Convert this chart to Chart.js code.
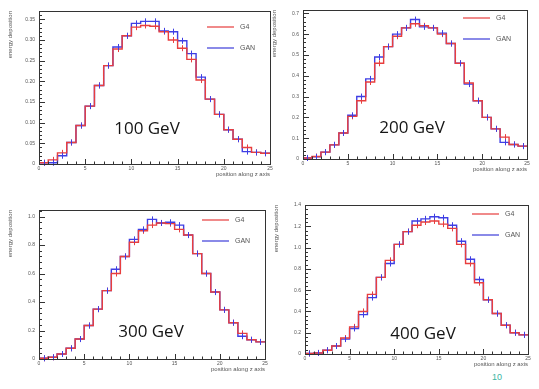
<!DOCTYPE html>
<html>
<head>
<meta charset="utf-8">
<script src="https://cdn.jsdelivr.net/npm/chart.js@4.4.1/dist/chart.umd.min.js"></script>
<style>
  html, body { margin: 0; padding: 0; background: #fff; }
  #page { position: relative; width: 539px; height: 389px; overflow: hidden; font-family: "Liberation Sans", Arial, sans-serif; }
  canvas { position: absolute; }
  .energy { position: absolute; transform: translate(-50%, -50%); font-family: "Open Sans", sans-serif; font-size: 17px; line-height: 1; color: #151515; white-space: nowrap; }
  .leg { position: absolute; height: 0; font-size: 7px; color: #555; white-space: nowrap; }
  .leg i { position: absolute; top: -1px; width: 27px; height: 2px; }
  .leg b { position: absolute; top: -4px; font-weight: normal; }
  #pageNum { position: absolute; left: 492px; top: 372px; font-size: 9px; color: #3bb5a3; }
</style>
</head>
<body>
<div id="page"><div id="pageNum">10</div></div>
<script>
// ----------------------
// Data, bin i covers [i, i+1] on the z axis
// ----------------------
const binStarts = [0, 1, 2, 3, 4, 5, 6, 7, 8, 9, 10, 11, 12, 13, 14, 15, 16, 17, 18, 19, 20, 21, 22, 23, 24];
const seriesNames = ['G4', 'GAN'];
const energyLabels = ['100 GeV', '200 GeV', '300 GeV', '400 GeV'];

const g4_100 = [0.003, 0.01, 0.027, 0.052, 0.093, 0.14, 0.19, 0.238, 0.278, 0.31, 0.331, 0.335, 0.333, 0.32, 0.30, 0.28, 0.253, 0.203, 0.157, 0.12, 0.083, 0.06, 0.04, 0.028, 0.026];
const gan_100 = [0.003, 0.003, 0.02, 0.052, 0.093, 0.14, 0.19, 0.238, 0.283, 0.31, 0.34, 0.345, 0.345, 0.322, 0.32, 0.298, 0.267, 0.21, 0.157, 0.12, 0.083, 0.06, 0.03, 0.028, 0.026];

const g4_200 = [0.005, 0.012, 0.033, 0.068, 0.125, 0.205, 0.28, 0.37, 0.46, 0.54, 0.59, 0.63, 0.65, 0.64, 0.63, 0.60, 0.555, 0.46, 0.365, 0.28, 0.20, 0.145, 0.105, 0.07, 0.062];
const gan_200 = [0.005, 0.01, 0.033, 0.068, 0.125, 0.21, 0.30, 0.385, 0.49, 0.54, 0.60, 0.63, 0.67, 0.635, 0.63, 0.605, 0.555, 0.46, 0.36, 0.28, 0.20, 0.145, 0.08, 0.07, 0.062];

const g4_300 = [0.005, 0.012, 0.035, 0.075, 0.14, 0.235, 0.35, 0.48, 0.60, 0.72, 0.82, 0.90, 0.94, 0.955, 0.95, 0.91, 0.87, 0.74, 0.60, 0.47, 0.345, 0.255, 0.18, 0.135, 0.12];
const gan_300 = [0.005, 0.012, 0.035, 0.075, 0.14, 0.235, 0.35, 0.48, 0.63, 0.72, 0.84, 0.91, 0.98, 0.955, 0.96, 0.94, 0.87, 0.74, 0.60, 0.47, 0.345, 0.255, 0.16, 0.135, 0.12];

const g4_400 = [0.005, 0.01, 0.035, 0.075, 0.15, 0.255, 0.40, 0.56, 0.72, 0.88, 1.03, 1.15, 1.21, 1.24, 1.25, 1.22, 1.18, 1.03, 0.85, 0.67, 0.51, 0.38, 0.27, 0.20, 0.18];
const gan_400 = [0.005, 0.01, 0.035, 0.075, 0.14, 0.24, 0.37, 0.53, 0.72, 0.85, 1.03, 1.15, 1.25, 1.27, 1.29, 1.28, 1.21, 1.06, 0.89, 0.70, 0.51, 0.38, 0.27, 0.20, 0.18];

// axis ranges (ROOT frame tops) and tick steps
const yMaxes = [0.37, 0.716, 1.046, 1.40];
const yTickSteps = [0.05, 0.1, 0.2, 0.2];
const xTickStep = 5;

// ----------------------
// Layout: plot frame [left, top, right, bottom] of each panel in page pixels
// ----------------------
const frames = [
  [39, 8, 270, 164],
  [303, 7, 527, 159],
  [39, 207, 265, 359],
  [305, 202, 528, 354],
];
const textCenters = [[147, 127], [412, 126], [151, 330], [423, 332]];
const legendPos = [[207, 27], [463, 18], [202, 220], [472, 214]];

const colors = {
  g4: 'rgb(232, 62, 62)',
  gan: 'rgb(62, 62, 228)',
  g4Legend: '#f08a8a',
  ganLegend: '#8a8ae8',
  axis: '#333',
  tickText: '#555',
};

const Y_AXIS_W = 32;
const X_AXIS_H = 14;
const PAD_T = 4;
const PAD_R = 5;

// histogram outline: one point per bin start, plus the right edge
function stepPoints(values) {
  const pts = binStarts.map((x, i) => ({ x: x, y: values[i] }));
  pts.push({ x: binStarts[binStarts.length - 1] + 1, y: values[values.length - 1] });
  return pts;
}

// ROOT-like frame, inward ticks and error crosses
const rootStyle = {
  id: 'rootStyle',
  afterDatasetsDraw(chart) {
    const ctx = chart.ctx;
    const { left, right, top, bottom } = chart.chartArea;
    const xs = chart.scales.x;
    const ys = chart.scales.y;

    // error crosses at bin centres
    chart.data.datasets.forEach((ds) => {
      ctx.save();
      ctx.strokeStyle = ds.borderColor;
      ctx.lineWidth = 1;
      ds.binValues.forEach((v, i) => {
        const px = Math.round(xs.getPixelForValue(binStarts[i] + 0.5)) + 0.5;
        const py = ys.getPixelForValue(v);
        ctx.beginPath();
        ctx.moveTo(px, py - 3);
        ctx.lineTo(px, py + 3);
        ctx.stroke();
      });
      ctx.restore();
    });

    ctx.save();
    ctx.strokeStyle = colors.axis;
    ctx.lineWidth = 1;
    ctx.strokeRect(Math.round(left) + 0.5, Math.round(top) + 0.5, Math.round(right - left), Math.round(bottom - top));

    ctx.beginPath();
    // x ticks: every unit, long every 5
    for (let v = xs.min; v <= xs.max + 1e-9; v += 1) {
      const px = Math.round(xs.getPixelForValue(v)) + 0.5;
      const len = (v % xTickStep === 0) ? 5 : 2.5;
      ctx.moveTo(px, bottom);
      ctx.lineTo(px, bottom - len);
    }
    // y ticks: major at labelled values, 5 minor divisions in between
    const step = chart.options.scales.y.ticks.stepSize;
    for (let k = 0; k * step / 5 <= ys.max + 1e-9; k++) {
      const v = k * step / 5;
      const py = Math.round(ys.getPixelForValue(v)) + 0.5;
      const len = (k % 5 === 0) ? 6 : 3;
      ctx.moveTo(left, py);
      ctx.lineTo(left + len, py);
    }
    ctx.stroke();
    ctx.restore();
  },
};

function makePanel(idx, g4, gan) {
  const [L, T, R, B] = frames[idx];
  const page = document.getElementById('page');
  const canvas = document.createElement('canvas');
  const w = (R - L) + Y_AXIS_W + PAD_R;
  const h = (B - T) + PAD_T + X_AXIS_H;
  canvas.width = w;
  canvas.height = h;
  canvas.style.left = (L - Y_AXIS_W) + 'px';
  canvas.style.top = (T - PAD_T) + 'px';
  canvas.style.width = w + 'px';
  canvas.style.height = h + 'px';
  page.appendChild(canvas);

  new Chart(canvas, {
    type: 'line',
    data: {
      datasets: [
        {
          label: seriesNames[0],
          data: stepPoints(g4),
          binValues: g4,
          borderColor: colors.g4,
          borderWidth: 1.4,
          stepped: 'before',
          pointRadius: 0,
          fill: false,
        },
        {
          label: seriesNames[1],
          data: stepPoints(gan),
          binValues: gan,
          borderColor: colors.gan,
          borderWidth: 1.4,
          stepped: 'before',
          pointRadius: 0,
          fill: false,
        },
      ],
    },
    options: {
      responsive: false,
      animation: false,
      devicePixelRatio: 1,
      layout: { padding: { top: PAD_T, right: PAD_R, left: 0, bottom: 0 } },
      plugins: { legend: { display: false }, tooltip: { enabled: false } },
      scales: {
        x: {
          type: 'linear',
          min: 0,
          max: 25,
          grid: { display: false, drawTicks: false },
          border: { display: false },
          ticks: { stepSize: xTickStep, maxRotation: 0, padding: 2, color: colors.tickText, font: { size: 5, family: 'Liberation Sans' } },
          title: { display: true, text: 'position along z axis', align: 'end', color: colors.tickText, padding: { top: 0, bottom: 0 }, font: { size: 6, family: 'Liberation Sans' } },
          afterFit: (scale) => { scale.height = X_AXIS_H; },
        },
        y: {
          min: 0,
          max: yMaxes[idx],
          grid: { display: false, drawTicks: false },
          border: { display: false },
          ticks: { stepSize: yTickSteps[idx], includeBounds: false, autoSkip: false, padding: 4, color: colors.tickText, font: { size: 5, family: 'Liberation Sans' } },
          title: { display: true, text: 'energy deposition', align: 'end', color: colors.tickText, padding: { top: 0, bottom: 0 }, font: { size: 6, family: 'Liberation Sans' } },
          afterFit: (scale) => { scale.width = Y_AXIS_W; },
        },
      },
    },
    plugins: [rootStyle],
  });

  // energy label
  const lab = document.createElement('div');
  lab.className = 'energy';
  lab.textContent = energyLabels[idx];
  lab.style.left = textCenters[idx][0] + 'px';
  lab.style.top = textCenters[idx][1] + 'px';
  page.appendChild(lab);

  // legend
  [[seriesNames[0], colors.g4Legend, 0], [seriesNames[1], colors.ganLegend, 21]].forEach(([name, col, dy]) => {
    const leg = document.createElement('div');
    leg.className = 'leg';
    leg.style.left = legendPos[idx][0] + 'px';
    leg.style.top = (legendPos[idx][1] + dy) + 'px';
    leg.innerHTML = '<i style="background:' + col + '"></i><b style="left:33px">' + name + '</b>';
    page.appendChild(leg);
  });
}

makePanel(0, g4_100, gan_100);
makePanel(1, g4_200, gan_200);
makePanel(2, g4_300, gan_300);
makePanel(3, g4_400, gan_400);
</script>
</body>
</html>
